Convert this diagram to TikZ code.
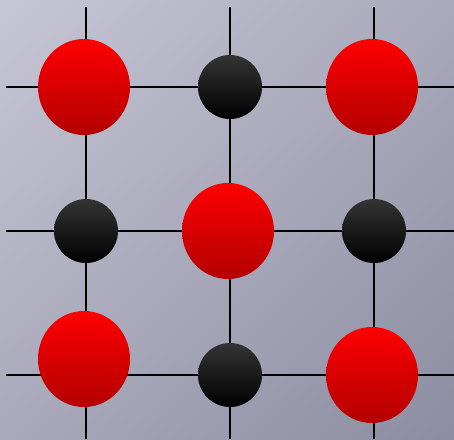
\documentclass[tikz,border=0pt]{standalone}
\usetikzlibrary{shapes.geometric,shadings}
\definecolor{bgTL}{RGB}{198,198,212}
\definecolor{bgBR}{RGB}{140,141,162}
\definecolor{bgMid}{RGB}{169,169,187}
\definecolor{redTop}{RGB}{255,0,0}
\definecolor{redBot}{RGB}{178,0,0}
\definecolor{blkTop}{RGB}{52,52,52}
\definecolor{blkBot}{RGB}{0,0,0}
\tikzset{
  redball/.style={ellipse, minimum width=92pt, minimum height=96pt, inner sep=0pt,
    top color=redTop, bottom color=redBot},
  blackball/.style={circle, minimum size=64pt, inner sep=0pt,
    top color=blkTop, bottom color=blkBot},
  gridline/.style={line width=1.6pt, black}
}
\begin{document}
\begin{tikzpicture}[x=1pt,y=-1pt]
\useasboundingbox (0,0) rectangle (454,439);
\shade[upper left=bgTL, lower right=bgBR, upper right=bgMid, lower left=bgMid] (0,0) rectangle (454,439);
% grid end points
\coordinate (v1t) at (86,7);  \coordinate (v1b) at (86,439);
\coordinate (v2t) at (230,7); \coordinate (v2b) at (230,439);
\coordinate (v3t) at (374,7); \coordinate (v3b) at (374,439);
\coordinate (h1l) at (6,87);  \coordinate (h1r) at (454,87);
\coordinate (h2l) at (6,231); \coordinate (h2r) at (454,231);
\coordinate (h3l) at (6,375); \coordinate (h3r) at (454,375);
\draw[gridline] (v1t) -- (v1b);
\draw[gridline] (v2t) -- (v2b);
\draw[gridline] (v3t) -- (v3b);
\draw[gridline] (h1l) -- (h1r);
\draw[gridline] (h2l) -- (h2r);
\draw[gridline] (h3l) -- (h3r);
% balls
\node[redball] (r1) at (84,87) {};
\node[blackball] (b1) at (230,87) {};
\node[redball] (r2) at (372,87) {};
\node[blackball] (b2) at (86,231) {};
\node[redball] (r3) at (228,231) {};
\node[blackball] (b3) at (374,231) {};
\node[redball] (r4) at (84,359) {};
\node[blackball] (b4) at (230,375) {};
\node[redball] (r5) at (372,375) {};
\end{tikzpicture}
\end{document}
